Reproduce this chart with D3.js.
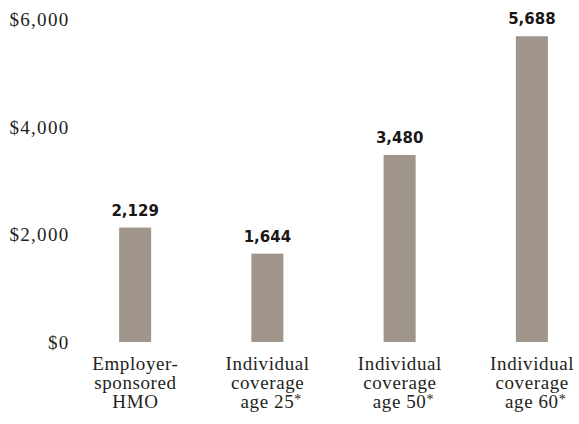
<!DOCTYPE html>
<html>
<head>
<meta charset="utf-8">
<script src="https://cdn.jsdelivr.net/npm/d3@7"></script>
<style>
  html, body { margin: 0; padding: 0; background: #ffffff; }
  svg { display: block; }
  .tick text, .cat { font-family: "Liberation Serif", "Times New Roman", serif; font-variant-numeric: oldstyle-nums; fill: #231f20; }
  .val { font-family: "DejaVu Sans", "Liberation Sans", sans-serif; font-weight: bold; fill: #1a1718; }
</style>
</head>
<body>
<svg id="chart" width="579" height="424"></svg>
<script>
// Annual premium cost by type of coverage
const categories = [
  ["Employer-", "sponsored", "HMO"],
  ["Individual", "coverage", "age 25"],
  ["Individual", "coverage", "age 50"],
  ["Individual", "coverage", "age 60"]
];
const footnoted = [false, true, true, true];
const values = [2129, 1644, 3480, 5688];
const yTicks = [0, 2000, 4000, 6000];

const width = 579, height = 424;
const svg = d3.select("#chart");

const x = d3.scaleBand()
  .domain(d3.range(values.length))
  .range([53, 614])
  .paddingInner(0.758)
  .paddingOuter(0.5);

const y = d3.scaleLinear()
  .domain([0, 6000])
  .range([342, 19.5]);

// Value axis: labels only, no line or tick marks
const yAxis = d3.axisLeft(y)
  .tickValues(yTicks)
  .tickSize(0)
  .tickPadding(0)
  .tickFormat(d => "$" + d3.format(",")(d));

svg.append("g")
  .attr("transform", "translate(69.5,0)")
  .call(yAxis)
  .call(g => g.select(".domain").remove())
  .selectAll("text")
  .attr("font-size", 19)
  .attr("letter-spacing", 1.3)
  .attr("dy", "0.32em");

// Bars
svg.append("g")
  .selectAll("rect")
  .data(values)
  .join("rect")
  .attr("x", (d, i) => x(i))
  .attr("y", d => y(d))
  .attr("width", x.bandwidth())
  .attr("height", d => y(0) - y(d))
  .attr("fill", "#9f958a");

// Value labels above bars
svg.append("g")
  .selectAll("text")
  .data(values)
  .join("text")
  .attr("class", "val")
  .attr("x", (d, i) => x(i) + x.bandwidth() / 2)
  .attr("y", d => y(d) - 12)
  .attr("text-anchor", "middle")
  .attr("font-size", 15)
  .text(d => d3.format(",")(d));

// Category labels under bars
const cat = svg.append("g");
categories.forEach((lines, i) => {
  const cx = x(i) + x.bandwidth() / 2;
  lines.forEach((line, j) => {
    const t = cat.append("text")
      .attr("class", "cat")
      .attr("font-size", 19)
      .attr("letter-spacing", 0.6)
      .attr("x", cx + 0.3)
      .attr("y", 370 + j * 19)
      .attr("text-anchor", "middle")
      .text(line);
    if (j === lines.length - 1 && footnoted[i]) {
      // Keep the line itself centred; the asterisk hangs to the right
      const w = t.node().getComputedTextLength();
      t.attr("text-anchor", "start").attr("x", cx - w / 2);
      t.append("tspan")
        .attr("font-size", 14)
        .attr("dy", -4)
        .text("*");
    }
  });
});
</script>
</body>
</html>
